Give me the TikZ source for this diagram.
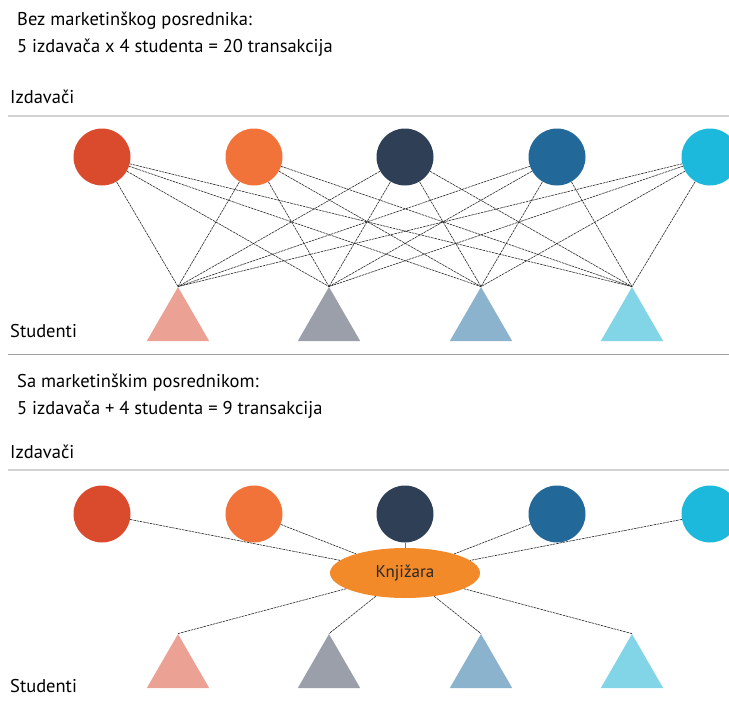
\documentclass[tikz,border=0pt]{standalone}
\usepackage{fontspec}
\setmainfont{PT Sans}
\usetikzlibrary{positioning,shapes.geometric}

\definecolor{izdA}{HTML}{DA4A2D}
\definecolor{izdB}{HTML}{F1733A}
\definecolor{izdC}{HTML}{2E3F56}
\definecolor{izdD}{HTML}{22699A}
\definecolor{izdE}{HTML}{1CB9DD}
\definecolor{stuA}{HTML}{EBA295}
\definecolor{stuB}{HTML}{9A9FA9}
\definecolor{stuC}{HTML}{8CB3CE}
\definecolor{stuD}{HTML}{82D4E7}
\definecolor{knjiga}{HTML}{F28A2A}

\tikzset{
  izdavac/.style={circle, minimum size=57pt, inner sep=0pt},
  student/.style={regular polygon, regular polygon sides=3, minimum size=72pt, inner sep=0pt},
  veza/.style={draw=black!85, line width=0.6pt, dash pattern=on 2.5pt off 0.8pt},
  tekst/.style={anchor=base west, inner sep=0pt, font=\fontsize{18.5}{20}\selectfont},
}

\begin{document}
\begin{tikzpicture}[x=1pt,y=-1pt]
\useasboundingbox (0,0) rectangle (729,701);
%% Upper half: without intermediary
\node[tekst] (naslovA) at (17,26) {Bez marketinškog posrednika:};
\node[tekst] (racunA) at (17,53) {5 izdavača x 4 studenta = 20 transakcija};
\node[tekst] (izdA) at (10,103) {Izdavači};
\draw[gray!35, line width=2pt] (8,116) -- (729,116);
% publishers
\node[izdavac, fill=izdA] (a1) at (102,157) {};
\node[izdavac, fill=izdB] (a2) at (254,157) {};
\node[izdavac, fill=izdC] (a3) at (405,157) {};
\node[izdavac, fill=izdD] (a4) at (557,157) {};
\node[izdavac, fill=izdE] (a5) at (710,157) {};
% students
\node[student, fill=stuA] (s1) at (178,323) {};
\node[student, fill=stuB] (s2) at (329,323) {};
\node[student, fill=stuC] (s3) at (481,323) {};
\node[student, fill=stuD] (s4) at (632,323) {};
\node[tekst] (stuA) at (10,337) {Studenti};
% every publisher to every student
\draw[veza] (a1) -- (s1.corner 1) (a1) -- (s2.corner 1) (a1) -- (s3.corner 1) (a1) -- (s4.corner 1);
\draw[veza] (a2) -- (s1.corner 1) (a2) -- (s2.corner 1) (a2) -- (s3.corner 1) (a2) -- (s4.corner 1);
\draw[veza] (a3) -- (s1.corner 1) (a3) -- (s2.corner 1) (a3) -- (s3.corner 1) (a3) -- (s4.corner 1);
\draw[veza] (a4) -- (s1.corner 1) (a4) -- (s2.corner 1) (a4) -- (s3.corner 1) (a4) -- (s4.corner 1);
\draw[veza] (a5) -- (s1.corner 1) (a5) -- (s2.corner 1) (a5) -- (s3.corner 1) (a5) -- (s4.corner 1);
\draw[gray!75, line width=1pt] (8,354) -- (729,354);
%% Lower half: with the bookshop
\node[tekst] (naslovB) at (17,387) {Sa marketinškim posrednikom:};
\node[tekst] (racunB) at (17,414) {5 izdavača + 4 studenta = 9 transakcija};
\node[tekst] (izdB) at (10,458) {Izdavači};
\draw[gray!35, line width=2pt] (8,470) -- (729,470);
\node[izdavac, fill=izdA] (b1) at (102,514) {};
\node[izdavac, fill=izdB] (b2) at (254,514) {};
\node[izdavac, fill=izdC] (b3) at (405,514) {};
\node[izdavac, fill=izdD] (b4) at (557,514) {};
\node[izdavac, fill=izdE] (b5) at (710,514) {};
\node[ellipse, fill=knjiga, minimum width=150pt, minimum height=50pt, inner sep=0pt,
  text=black!85, font=\fontsize{17}{19}\selectfont] (knj) at (405,573) {Knjižara};
\node[student, fill=stuA] (t1) at (178,670) {};
\node[student, fill=stuB] (t2) at (329,670) {};
\node[student, fill=stuC] (t3) at (481,670) {};
\node[student, fill=stuD] (t4) at (632,670) {};
\node[tekst] (stuB) at (10,692) {Studenti};
% publishers and students meet at the bookshop
\draw[veza] (b1) -- (knj) (b2) -- (knj) (b4) -- (knj) (b5) -- (knj);
\draw[black!55, line width=0.5pt] (b3) -- (knj);
\draw[veza] (knj) -- (t1.corner 1) (knj) -- (t2.corner 1) (knj) -- (t3.corner 1) (knj) -- (t4.corner 1);
\end{tikzpicture}
\end{document}
